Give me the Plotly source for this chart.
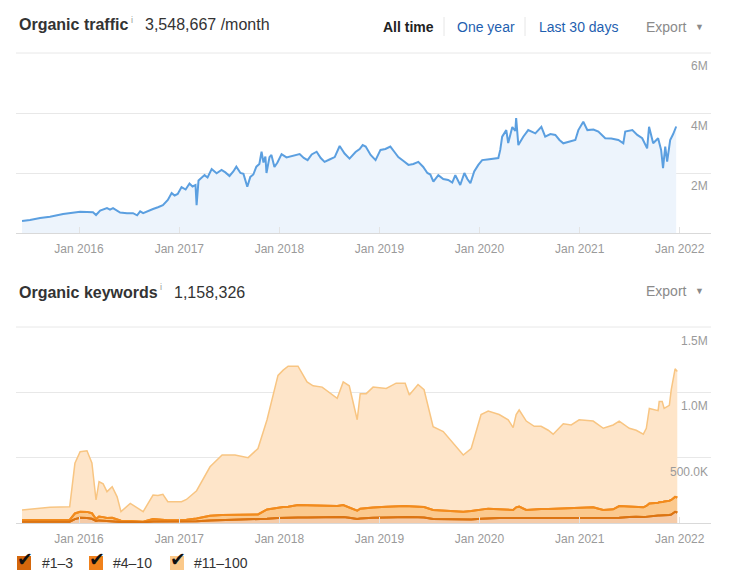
import plotly.graph_objects as go

FONT = "Liberation Sans, Arial, Helvetica, sans-serif"
W, H = 732, 582

# ---------------- data ----------------
traffic_dates = [
    "2015-06-07", "2015-07-06", "2015-08-12", "2015-09-17", "2015-11-04", "2015-12-07",
    "2016-01-05", "2016-01-30", "2016-02-21", "2016-03-03", "2016-03-18", "2016-04-12",
    "2016-04-23", "2016-05-04", "2016-05-30", "2016-06-24", "2016-07-16", "2016-07-31",
    "2016-08-11", "2016-08-22", "2016-09-09", "2016-09-27", "2016-10-15", "2016-11-02",
    "2016-11-20", "2016-12-04", "2016-12-15", "2016-12-26", "2017-01-09", "2017-01-24",
    "2017-02-07", "2017-02-18", "2017-03-01", "2017-03-05", "2017-03-12", "2017-04-03",
    "2017-04-14", "2017-04-29", "2017-05-17", "2017-06-04", "2017-06-18", "2017-07-03",
    "2017-07-17", "2017-07-28", "2017-08-12", "2017-08-23", "2017-09-06", "2017-09-17",
    "2017-09-28", "2017-10-09", "2017-10-20", "2017-10-28", "2017-11-04", "2017-11-11",
    "2017-11-15", "2017-11-26", "2017-12-03", "2017-12-14", "2017-12-25", "2018-01-09",
    "2018-01-27", "2018-02-18", "2018-03-16", "2018-03-31", "2018-04-14", "2018-04-29",
    "2018-05-17", "2018-06-01", "2018-06-15", "2018-07-03", "2018-07-22", "2018-08-09",
    "2018-08-27", "2018-09-14", "2018-10-06", "2018-10-21", "2018-11-01", "2018-11-12",
    "2018-11-30", "2018-12-18", "2019-01-05", "2019-01-23", "2019-02-10", "2019-02-25",
    "2019-03-11", "2019-03-30", "2019-04-17", "2019-05-05", "2019-05-23", "2019-06-10",
    "2019-06-25", "2019-07-06", "2019-07-17", "2019-08-04", "2019-08-22", "2019-09-09",
    "2019-09-24", "2019-10-05", "2019-10-16", "2019-10-23", "2019-11-07", "2019-11-18",
    "2019-11-29", "2019-12-13", "2019-12-28", "2020-01-11", "2020-01-30", "2020-02-24",
    "2020-03-10", "2020-03-17", "2020-03-24", "2020-04-08", "2020-04-15", "2020-04-30",
    "2020-05-11", "2020-05-14", "2020-05-22", "2020-06-09", "2020-06-27", "2020-07-23",
    "2020-08-14", "2020-08-28", "2020-09-16", "2020-10-04", "2020-10-19", "2020-11-02",
    "2020-11-24", "2020-12-16", "2020-12-27", "2021-01-14", "2021-01-29", "2021-02-20",
    "2021-03-10", "2021-04-04", "2021-04-26", "2021-05-22", "2021-06-09", "2021-06-16",
    "2021-07-12", "2021-07-30", "2021-08-17", "2021-09-04", "2021-09-11", "2021-09-26",
    "2021-10-14", "2021-10-25", "2021-11-01", "2021-11-09", "2021-11-16", "2021-11-27",
    "2021-12-08", "2021-12-19",
]
traffic_millions = [
    0.40, 0.43, 0.50, 0.54, 0.63, 0.67,
    0.71, 0.70, 0.69, 0.60, 0.75, 0.83,
    0.78, 0.83, 0.68, 0.66, 0.66, 0.59,
    0.72, 0.66, 0.74, 0.80, 0.86, 0.93,
    1.10, 1.33, 1.25, 1.30, 1.53, 1.45,
    1.65, 1.55, 1.60, 0.93, 1.75, 1.93,
    1.85, 2.13, 1.99, 2.10, 2.02, 1.90,
    2.05, 2.21, 2.00, 1.97, 1.54, 1.87,
    1.95, 2.21, 2.30, 2.71, 2.35, 2.55,
    2.00, 2.53, 2.60, 2.20, 2.35, 2.63,
    2.52, 2.57, 2.63, 2.50, 2.43, 2.62,
    2.71, 2.50, 2.37, 2.45, 2.53, 2.90,
    2.65, 2.48, 2.70, 2.80, 2.93, 2.88,
    2.60, 2.43, 2.77, 2.80, 2.88, 2.70,
    2.53, 2.40, 2.27, 2.30, 2.37, 2.20,
    2.00, 1.95, 1.71, 1.93, 1.80, 1.77,
    1.68, 1.93, 1.70, 1.60, 2.00, 1.80,
    1.66, 2.05, 2.27, 2.43, 2.45, 2.48,
    2.50, 2.77, 3.21, 3.43, 3.00, 3.53,
    3.40, 3.83, 2.93, 3.21, 3.43, 3.32,
    3.54, 3.21, 3.30, 3.27, 3.10, 2.99,
    3.05, 3.10, 3.43, 3.71, 3.43, 3.45,
    3.38, 3.16, 3.15, 3.10, 2.99, 3.38,
    3.43, 3.27, 3.16, 2.82, 3.54, 2.99,
    3.16, 2.77, 2.16, 2.88, 2.38, 3.10,
    3.30, 3.55,
]

kw_dates = [
    "2015-06-07", "2015-09-17", "2015-11-28", "2015-12-17", "2016-01-05", "2016-01-30",
    "2016-02-17", "2016-03-03", "2016-03-14", "2016-03-29", "2016-04-12", "2016-05-01",
    "2016-05-19", "2016-06-02", "2016-07-06", "2016-08-22", "2016-09-27", "2016-10-15",
    "2016-11-02", "2016-11-20", "2017-01-09", "2017-01-27", "2017-03-05", "2017-04-23",
    "2017-06-06", "2017-07-23", "2017-09-09", "2017-10-15", "2017-11-17", "2017-12-27",
    "2018-01-15", "2018-02-02", "2018-03-10", "2018-04-12", "2018-05-04", "2018-06-06",
    "2018-07-31", "2018-08-22", "2018-09-13", "2018-10-12", "2018-10-23", "2018-11-14",
    "2018-12-09", "2019-01-26", "2019-03-03", "2019-04-05", "2019-04-20", "2019-05-22",
    "2019-06-13", "2019-07-16", "2019-08-22", "2019-09-27", "2019-11-03", "2019-12-02",
    "2020-01-07", "2020-02-02", "2020-03-13", "2020-04-15", "2020-05-03", "2020-05-14",
    "2020-05-25", "2020-06-20", "2020-07-19", "2020-08-13", "2020-09-08", "2020-09-26",
    "2020-11-02", "2020-12-01", "2020-12-30", "2021-02-19", "2021-03-28", "2021-05-03",
    "2021-05-25", "2021-07-01", "2021-07-26", "2021-08-21", "2021-09-01", "2021-09-12",
    "2021-10-14", "2021-10-18", "2021-10-29", "2021-11-05", "2021-11-24", "2021-12-01",
    "2021-12-15", "2021-12-23",
]
# keywords ranking in positions 1-3 (millions)
kw_top3 = [
    0.010, 0.010, 0.010, 0.030, 0.040, 0.038,
    0.032, 0.015, 0.020, 0.018, 0.015, 0.016,
    0.012, 0.008, 0.008, 0.006, 0.012, 0.012,
    0.010, 0.010, 0.010, 0.011, 0.014, 0.020,
    0.022, 0.023, 0.024, 0.025, 0.032, 0.038,
    0.040, 0.040, 0.042, 0.043, 0.044, 0.045,
    0.045, 0.045, 0.040, 0.030, 0.035, 0.040,
    0.040, 0.042, 0.045, 0.045, 0.045, 0.044,
    0.042, 0.030, 0.028, 0.026, 0.025, 0.027,
    0.033, 0.036, 0.038, 0.038, 0.038, 0.040,
    0.040, 0.039, 0.040, 0.040, 0.040, 0.040,
    0.040, 0.040, 0.040, 0.038, 0.035, 0.036,
    0.040, 0.045, 0.048, 0.045, 0.048, 0.055,
    0.058, 0.058, 0.058, 0.060, 0.062, 0.065,
    0.086, 0.080,
]
# keywords ranking in positions 1-10 (millions)
kw_top10 = [
    0.023, 0.023, 0.023, 0.073, 0.086, 0.085,
    0.075, 0.030, 0.050, 0.045, 0.038, 0.040,
    0.030, 0.018, 0.015, 0.010, 0.030, 0.028,
    0.025, 0.022, 0.023, 0.025, 0.035, 0.055,
    0.062, 0.064, 0.065, 0.066, 0.104, 0.118,
    0.122, 0.125, 0.137, 0.135, 0.133, 0.132,
    0.130, 0.137, 0.120, 0.094, 0.110, 0.115,
    0.118, 0.125, 0.130, 0.130, 0.128, 0.125,
    0.122, 0.100, 0.095, 0.090, 0.087, 0.092,
    0.105, 0.110, 0.105, 0.100, 0.100, 0.120,
    0.125, 0.100, 0.105, 0.107, 0.107, 0.108,
    0.110, 0.110, 0.115, 0.120, 0.100, 0.105,
    0.130, 0.128, 0.125, 0.120, 0.130, 0.150,
    0.155, 0.158, 0.160, 0.165, 0.170, 0.176,
    0.200, 0.195,
]
# keywords ranking in positions 1-100 (millions)
kw_top100 = [
    0.100, 0.120, 0.125, 0.457, 0.545, 0.553,
    0.460, 0.176, 0.316, 0.300, 0.240, 0.278,
    0.200, 0.087, 0.150, 0.087, 0.214, 0.210,
    0.220, 0.163, 0.163, 0.180, 0.247, 0.430,
    0.520, 0.520, 0.500, 0.570, 0.790, 1.130,
    1.170, 1.200, 1.200, 1.080, 1.050, 1.040,
    0.954, 1.080, 1.050, 0.790, 0.990, 0.990,
    1.040, 1.030, 1.070, 1.070, 0.980, 1.060,
    1.020, 0.737, 0.700, 0.610, 0.520, 0.570,
    0.830, 0.857, 0.830, 0.790, 0.730, 0.830,
    0.865, 0.780, 0.740, 0.740, 0.710, 0.680,
    0.760, 0.750, 0.790, 0.780, 0.725, 0.750,
    0.780, 0.725, 0.710, 0.680, 0.725, 0.877,
    0.860, 0.930, 0.930, 0.877, 0.900, 1.020,
    1.180, 1.160,
]

year_ticks = ["2016-01-01", "2017-01-01", "2018-01-01", "2019-01-01",
              "2020-01-01", "2021-01-01", "2022-01-01"]
year_labels = ["Jan 2016", "Jan 2017", "Jan 2018", "Jan 2019",
               "Jan 2020", "Jan 2021", "Jan 2022"]
traffic_tick_vals = [0, 2, 4, 6]
traffic_tick_text = ["", "2M", "4M", "6M"]
kw_tick_vals = [0, 0.5, 1.0, 1.5]
kw_tick_text = ["", "500.0K", "1.0M", "1.5M"]

series_names = ["#1–3", "#4–10", "#11–100"]
series_lines = ["#dc7412", "#f28b1d", "#f8c582"]
series_fills = ["#f5cba8", "#fbc98e", "#fee5c9"]
checkbox_colors = ["#d4670c", "#f0811b", "#fbc98a"]

# ---------------- figure ----------------
fig = go.Figure()

fig.add_trace(go.Scatter(
    x=traffic_dates, y=traffic_millions, mode="lines",
    line=dict(color="#5b9fe0", width=2), fill="tozeroy",
    fillcolor="#edf4fc", xaxis="x", yaxis="y", showlegend=False,
    hoverinfo="skip",
))

kw_series = [kw_top3, kw_top10, kw_top100]
for i, vals in enumerate(kw_series):
    fig.add_trace(go.Scatter(
        x=kw_dates, y=vals, mode="lines", name=series_names[i],
        line=dict(color=series_lines[i], width=2 if i < 2 else 1.5),
        fill="tozeroy" if i == 0 else "tonexty",
        fillcolor=series_fills[i], xaxis="x2", yaxis="y2",
        showlegend=False, hoverinfo="skip",
    ))
# redraw the two darker lines on top of the lighter fills
for i in [1, 0]:
    fig.add_trace(go.Scatter(
        x=kw_dates, y=kw_series[i], mode="lines",
        line=dict(color=series_lines[i], width=2),
        xaxis="x2", yaxis="y2", showlegend=False, hoverinfo="skip",
    ))

x0, x1 = 16 / W, 711 / W
xrange = ["2015-05-16", "2022-04-25"]

common_x = dict(
    type="date", range=xrange, tickmode="array", tickvals=year_ticks,
    ticktext=year_labels, showgrid=False, ticks="inside", ticklen=6,
    tickcolor="#e3e3e3", showline=True, linecolor="#d9d9d9", linewidth=1,
    tickfont=dict(family=FONT, size=12, color="#9a9a9a"), zeroline=False,
    fixedrange=True, domain=[x0, x1], ticklabelstandoff=5,
)
common_y = dict(
    tickmode="array", showticklabels=False, showgrid=True,
    gridcolor="#e8e8e8", gridwidth=1, zeroline=False, fixedrange=True,
    showline=False,
)

fig.update_layout(
    width=W, height=H, margin=dict(l=0, r=0, t=0, b=0),
    paper_bgcolor="white", plot_bgcolor="white",
    font=dict(family=FONT, color="#333"),
    xaxis=dict(common_x, anchor="y"),
    yaxis=dict(common_y, range=[0, 6], tickvals=traffic_tick_vals,
               domain=[1 - 233 / H, 1 - 53 / H], anchor="x"),
    xaxis2=dict(common_x, anchor="y2"),
    yaxis2=dict(common_y, range=[0, 1.5], tickvals=kw_tick_vals,
                domain=[1 - 523 / H, 1 - 327 / H], anchor="x2"),
    showlegend=False,
)

ann = []
# y-axis labels (inside, right aligned, below gridlines)
for v, t in zip(traffic_tick_vals, traffic_tick_text):
    if t:
        ann.append(dict(x=1, xref="x domain", y=v, yref="y", text=t,
                        showarrow=False, xanchor="right", yanchor="middle",
                        yshift=-13, xshift=-1,
                        font=dict(family=FONT, size=12, color="#9a9a9a")))
for v, t in zip(kw_tick_vals, kw_tick_text):
    if t:
        ann.append(dict(x=1, xref="x2 domain", y=v, yref="y2", text=t,
                        showarrow=False, xanchor="right", yanchor="middle",
                        yshift=-14, xshift=-1,
                        font=dict(family=FONT, size=12, color="#9a9a9a")))


def px_ann(x, y, text, size, color, bold=False, anchor="left"):
    if bold:
        text = "<b>" + text + "</b>"
    return dict(x=x / W, y=1 - y / H, xref="paper", yref="paper", text=text,
                showarrow=False, xanchor=anchor, yanchor="middle",
                font=dict(family=FONT, size=size, color=color))


# header of traffic panel
ann.append(px_ann(17, 25, "Organic traffic", 16, "#333333", bold=True))
ann.append(px_ann(129, 20, "i", 9, "#999999"))
ann.append(px_ann(143, 25, "3,548,667 /month", 16, "#333333"))
ann.append(px_ann(381, 27, "All time", 14, "#222222", bold=True))
ann.append(px_ann(455, 27, "One year", 14, "#1f5fb0"))
ann.append(px_ann(537, 27, "Last 30 days", 14, "#1f5fb0"))
ann.append(px_ann(644, 27, "Export", 14, "#8a8a8a"))
ann.append(px_ann(699, 27, "▼", 9, "#8a8a8a", anchor="center"))

# header of keywords panel
ann.append(px_ann(17, 292, "Organic keywords", 16, "#333333", bold=True))
ann.append(px_ann(158, 287, "i", 9, "#999999"))
ann.append(px_ann(172, 292, "1,158,326", 16, "#333333"))
ann.append(px_ann(644, 291, "Export", 14, "#8a8a8a"))
ann.append(px_ann(699, 291, "▼", 9, "#8a8a8a", anchor="center"))

# legend (checkboxes)
shapes = []
box_x = [17, 89, 170]
text_x = [40, 111, 192]
for i in range(3):
    shapes.append(dict(type="rect", xref="paper", yref="paper",
                       x0=box_x[i] / W, x1=(box_x[i] + 14) / W,
                       y0=1 - 570 / H, y1=1 - 556 / H,
                       fillcolor=checkbox_colors[i], line=dict(width=0)))
    ann.append(dict(x=(box_x[i] + 8) / W, y=1 - 559 / H, xref="paper", yref="paper",
                    text="✔", showarrow=False, xanchor="center", yanchor="middle",
                    font=dict(family="DejaVu Sans", size=19, color="#111111")))
    ann.append(px_ann(text_x[i], 563, series_names[i], 14, "#333333"))

# top gridline of each panel (edge of the value range)
for xr, yr in [("x domain", "y domain"), ("x2 domain", "y2 domain")]:
    shapes.append(dict(type="line", xref=xr, yref=yr, x0=0, x1=1, y0=1, y1=1,
                       line=dict(color="#e8e8e8", width=1), layer="below"))

# separators between time-range options
for sx in [444, 525]:
    shapes.append(dict(type="line", xref="paper", yref="paper",
                       x0=sx / W, x1=sx / W, y0=1 - 36 / H, y1=1 - 17 / H,
                       line=dict(color="#e6e6e6", width=1)))

fig.update_layout(annotations=ann, shapes=shapes)

fig.write_html("out.html")
